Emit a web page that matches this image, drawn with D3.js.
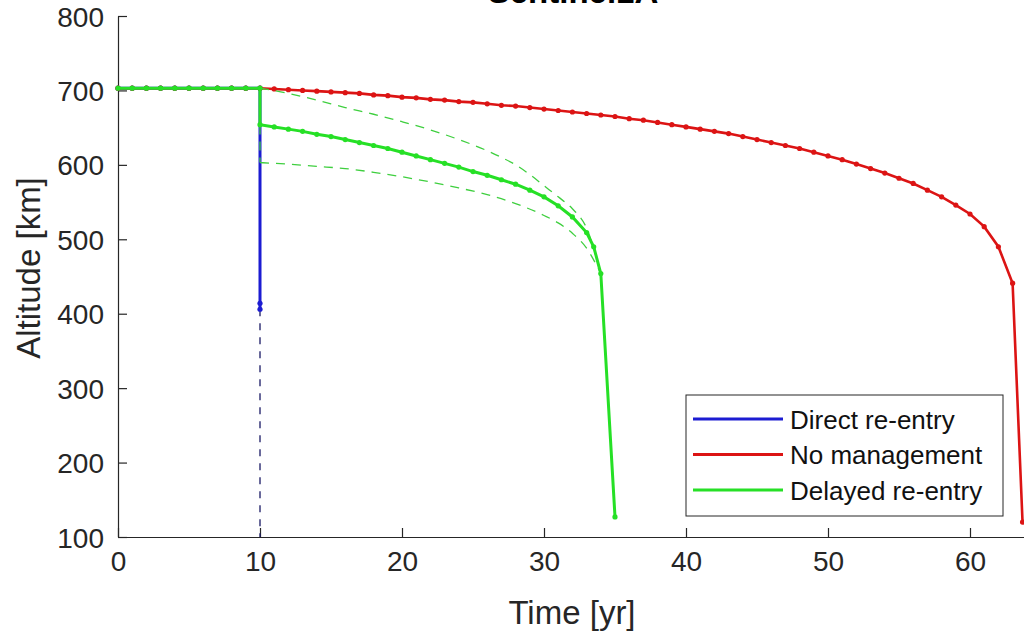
<!DOCTYPE html>
<html>
<head>
<meta charset="utf-8">
<script src="https://cdn.jsdelivr.net/npm/d3@7"></script>
<style>
  html, body { margin: 0; padding: 0; background: #fff; }
  svg { display: block; font-family: "Liberation Sans", Arial, sans-serif; }
</style>
</head>
<body>
<div id="chart"></div>
<script>
// --- data ---
const noMgmtT = [0,1,2,3,4,5,6,7,8,9,10,11,12,13,14,15,16,17,18,19,20,21,22,23,24,25,26,27,28,29,30,31,32,33,34,35,36,37,38,39,40,41,42,43,44,45,46,47,48,49,50,51,52,53,54,55,56,57,58,59,60,61,62,63,63.7];
const noMgmtAlt = [703,703,703,703,703,703,703,703,703,703,703,702,701,700,699,698,697,696,694,693,691,690,688,687,685,684,682,680,679,677,675,673,671,669,667,665,662,660,657,654,651,648,645,642,638,634,630,626,622,617,612,607,601,595,589,582,575,566,557,546,534,517,490,441,120];

const delayedT = [0,1,2,3,4,5,6,7,8,9,10,10,11,12,13,14,15,16,17,18,19,20,21,22,23,24,25,26,27,28,29,30,31,32,33,33.5,34,35];
const delayedAlt = [703,703,703,703,703,703,703,703,703,703,703,654,651,648,645,641,638,634,630,626,622,617,612,607,602,597,591,586,580,574,566,557,545,530,509,490,454,127];

const directT = [0,1,2,3,4,5,6,7,8,9,10,10,10];
const directAlt = [703,703,703,703,703,703,703,703,703,703,703,414,406];
const directTailT = [10,10];
const directTailAlt = [406,100];

const upperT = [10,12,14,16,18,20,22,24,26,27,28,29,30,31,32,33,34];
const upperAlt = [703,696,687,677,668,658,647,634,619,610,600,587,572,557,541,515,454];
const lowerT = [10,12,14,16,18,20,22,24,26,28,30,31,32,33,34];
const lowerAlt = [603,601,598,595,590,584,577,569,560,548,532,522,508,488,454];
const lowerStartT = [10,10];
const lowerStartAlt = [653,603];

const xTicks = [0,10,20,30,40,50,60];
const yTicks = [100,200,300,400,500,600,700,800];
const legendNames = ["Direct re-entry","No management","Delayed re-entry"];

const cBlue = "#1c1cd2", cRed = "#dc1414", cGreen = "#26e026";
const legendColors = [cBlue, cRed, cGreen];

const W = 1024, H = 633;
const svg = d3.select("#chart").append("svg").attr("width", W).attr("height", H);

const x = d3.scaleLinear().domain([0, 64]).range([118, 118 + 64 * 14.2]);
const y = d3.scaleLinear().domain([100, 800]).range([537, 16]);

const axisColor = "#262626";

// axes (MATLAB style, inward ticks, box off)
const gx = svg.append("g").attr("transform", `translate(0,${y(100)})`)
  .call(d3.axisBottom(x).tickValues(xTicks).tickSizeInner(-9).tickSizeOuter(0).tickPadding(14));
const gy = svg.append("g").attr("transform", `translate(${x(0)},0)`)
  .call(d3.axisLeft(y).tickValues(yTicks).tickSizeInner(-9).tickSizeOuter(0).tickPadding(14));
[gx, gy].forEach(g => {
  g.select(".domain").attr("stroke", axisColor).attr("stroke-width", 1.2);
  g.selectAll(".tick line").attr("stroke", axisColor).attr("stroke-width", 1.2);
  g.selectAll(".tick text").attr("fill", axisColor).style("font-size", "28px")
    .style("font-family", "'Liberation Sans', Arial, sans-serif");
});
gy.selectAll(".tick text").attr("x", -14).attr("dy", "0.36em");
gx.selectAll(".tick text").attr("dy", "0.72em");

const line = d3.line().x(d => x(d[0])).y(d => y(d[1]));
const smooth = d3.line().x(d => x(d[0])).y(d => y(d[1])).curve(d3.curveMonotoneX);
const pts = (t, v) => t.map((d, i) => [d, v[i]]);

// dashed tail of direct re-entry
svg.append("path").datum(pts(directTailT, directTailAlt))
  .attr("d", line).attr("fill", "none").attr("stroke", "#1a1a66")
  .attr("stroke-width", 1.3).attr("stroke-dasharray", "7,7");

// direct re-entry
svg.append("path").datum(pts(directT, directAlt))
  .attr("d", line).attr("fill", "none").attr("stroke", cBlue).attr("stroke-width", 3);
svg.append("g").selectAll("circle").data(pts(directT, directAlt)).join("circle")
  .attr("cx", d => x(d[0])).attr("cy", d => y(d[1])).attr("r", 2.6).attr("fill", cBlue);

// no management
svg.append("path").datum(pts(noMgmtT, noMgmtAlt))
  .attr("d", line).attr("fill", "none").attr("stroke", cRed).attr("stroke-width", 2.6);
svg.append("g").selectAll("circle").data(pts(noMgmtT, noMgmtAlt)).join("circle")
  .attr("cx", d => x(d[0])).attr("cy", d => y(d[1])).attr("r", 2.6).attr("fill", cRed);

// dashed envelope of delayed re-entry
const dashed = (p, gen) => svg.append("path").datum(p).attr("d", gen)
  .attr("fill", "none").attr("stroke", "#3fcf3f").attr("stroke-width", 1.3)
  .attr("stroke-dasharray", "9,7");
dashed(pts(upperT, upperAlt), smooth);
dashed(pts(lowerStartT, lowerStartAlt), line);
dashed(pts(lowerT, lowerAlt), smooth);

// delayed re-entry
svg.append("path").datum(pts(delayedT, delayedAlt))
  .attr("d", line).attr("fill", "none").attr("stroke", cGreen).attr("stroke-width", 3);
svg.append("g").selectAll("circle").data(pts(delayedT, delayedAlt)).join("circle")
  .attr("cx", d => x(d[0])).attr("cy", d => y(d[1])).attr("r", 2.6).attr("fill", cGreen);

// title (clipped at top as in the reference)
svg.append("text").attr("x", 573).attr("y", 3).attr("text-anchor", "middle")
  .style("font-size", "33px").style("font-weight", "bold").attr("fill", "#000")
  .text("Sentinel1A");

// axis labels
svg.append("text").attr("x", 572).attr("y", 624).attr("text-anchor", "middle")
  .style("font-size", "33px").attr("fill", axisColor).text("Time [yr]");
svg.append("text").attr("transform", "translate(40,268) rotate(-90)").attr("text-anchor", "middle")
  .style("font-size", "33px").attr("fill", axisColor).text("Altitude [km]");

// legend
const lg = svg.append("g");
lg.append("rect").attr("x", 686).attr("y", 395).attr("width", 317).attr("height", 121)
  .attr("fill", "#fff").attr("stroke", axisColor).attr("stroke-width", 1);
legendNames.forEach((name, i) => {
  const ly = 419 + i * 35.5;
  lg.append("line").attr("x1", 693).attr("x2", 783).attr("y1", ly).attr("y2", ly)
    .attr("stroke", legendColors[i]).attr("stroke-width", 3);
  lg.append("text").attr("x", 790).attr("y", ly + 9.5)
    .style("font-size", "26px").attr("fill", "#111").text(name);
});
</script>
</body>
</html>
